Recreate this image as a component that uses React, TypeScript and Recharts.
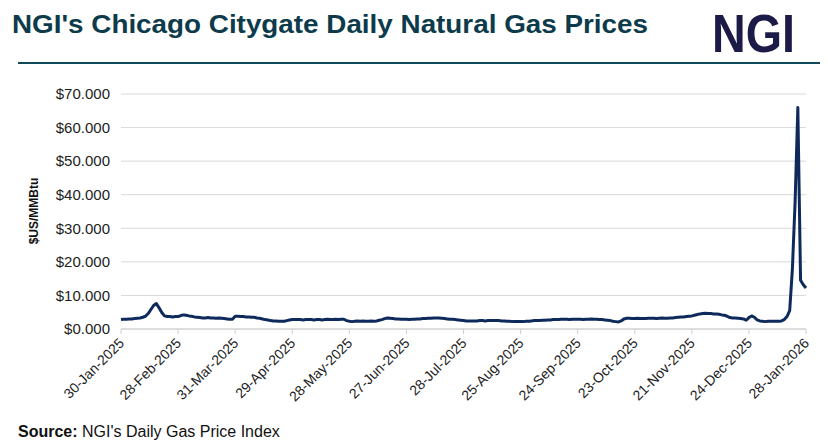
import React from "react";
import { LineChart, Line, XAxis, YAxis, CartesianGrid } from "recharts";

const TITLE = "NGI's Chicago Citygate Daily Natural Gas Prices";
const Y_LABEL = "$US/MMBtu";
const TICK_LABELS = [
  "30-Jan-2025", "28-Feb-2025", "31-Mar-2025", "29-Apr-2025", "28-May-2025",
  "27-Jun-2025", "28-Jul-2025", "25-Aug-2025", "24-Sep-2025", "23-Oct-2025",
  "21-Nov-2025", "24-Dec-2025", "28-Jan-2026",
];
const TICK_INDEX = [0, 21, 42, 63, 84, 105, 126, 147, 168, 189, 210, 231, 252];
const Y_TICKS = [0, 10, 20, 30, 40, 50, 60, 70];

// Daily price ($US/MMBtu), one per trading day, 30-Jan-2025 .. 28-Jan-2026
const PRICES = [
  2.8, 2.9, 2.9, 3.0, 3.0, 3.1, 3.2, 3.3, 3.5, 3.8,
  4.6, 5.8, 7.0, 7.6, 6.3, 4.9, 3.9, 3.7, 3.7, 3.6,
  3.7, 3.7, 4.0, 4.2, 4.1, 3.9, 3.8, 3.6, 3.5, 3.4,
  3.3, 3.3, 3.4, 3.3, 3.3, 3.2, 3.3, 3.2, 3.1, 3.0,
  2.9, 2.9, 3.8, 3.8, 3.7, 3.7, 3.6, 3.6, 3.5, 3.5,
  3.3, 3.2, 3.0, 2.8, 2.7, 2.5, 2.4, 2.4, 2.3, 2.3,
  2.3, 2.5, 2.7, 2.8, 2.8, 2.8, 2.8, 2.7, 2.8, 2.8,
  2.8, 2.7, 2.8, 2.8, 2.7, 2.8, 2.9, 2.8, 2.8, 2.9,
  2.8, 2.9, 2.9, 2.5, 2.3, 2.2, 2.3, 2.4, 2.3, 2.4,
  2.3, 2.3, 2.4, 2.3, 2.4, 2.6, 2.8, 3.1, 3.3, 3.2,
  3.1, 3.0, 3.0, 2.9, 2.9, 2.9, 2.8, 2.9, 2.9, 3.0,
  3.0, 3.1, 3.1, 3.2, 3.2, 3.3, 3.3, 3.3, 3.2, 3.1,
  3.0, 2.9, 2.9, 2.8, 2.7, 2.6, 2.5, 2.4, 2.4, 2.4,
  2.4, 2.4, 2.5, 2.5, 2.4, 2.5, 2.5, 2.5, 2.5, 2.5,
  2.4, 2.4, 2.3, 2.3, 2.2, 2.2, 2.2, 2.2, 2.2, 2.3,
  2.3, 2.4, 2.5, 2.5, 2.5, 2.6, 2.6, 2.7, 2.7, 2.8,
  2.8, 2.8, 2.9, 2.9, 2.9, 2.8, 2.9, 2.9, 2.9, 2.9,
  2.8, 2.9, 2.9, 3.0, 2.9, 2.9, 2.8, 2.8, 2.7, 2.6,
  2.5, 2.3, 2.2, 2.1, 2.4, 3.0, 3.2, 3.2, 3.1, 3.1,
  3.2, 3.1, 3.1, 3.1, 3.2, 3.2, 3.2, 3.1, 3.2, 3.3,
  3.2, 3.2, 3.3, 3.3, 3.4, 3.5, 3.6, 3.6, 3.7, 3.8,
  3.9, 4.1, 4.3, 4.5, 4.6, 4.7, 4.6, 4.6, 4.5, 4.5,
  4.4, 4.2, 4.1, 3.8, 3.4, 3.3, 3.3, 3.2, 3.1, 3.0,
  2.6, 3.4, 3.9, 3.5, 2.7, 2.4, 2.3, 2.2, 2.3, 2.3,
  2.3, 2.3, 2.3, 2.4, 2.8, 3.7, 5.5, 18.0, 38.0, 66.0,
  14.5, 13.2, 12.2,
];

const data = PRICES.map((v, i) => ({ i, v }));

const FONT = "'Liberation Sans', Arial, Helvetica, sans-serif";

const XTick = (props: any) => {
  const { x, y, payload } = props;
  const idx = TICK_INDEX.indexOf(payload.value);
  const label = idx >= 0 ? TICK_LABELS[idx] : "";
  const ax = x + 4;
  const ay = y + 8;
  return (
    <text
      x={ax}
      y={ay}
      transform={`rotate(-45, ${ax}, ${ay})`}
      textAnchor="end"
      fontSize={14}
      fontFamily={FONT}
      fill="#222"
    >
      {label}
    </text>
  );
};

export default function App() {
  return (
    <div
      style={{
        position: "absolute",
        left: 0,
        top: 0,
        width: 828,
        height: 447,
        background: "#fff",
        fontFamily: FONT,
      }}
    >
      <LineChart
        width={828}
        height={447}
        data={data}
        margin={{ top: 94, right: 22, bottom: 0, left: 11 }}
      >
        <CartesianGrid vertical={false} stroke="#d9d9d9" strokeWidth={1} />
        <XAxis
          dataKey="i"
          type="number"
          domain={[0, 252]}
          ticks={TICK_INDEX}
          interval={0}
          tick={<XTick />}
          tickSize={5}
          axisLine={{ stroke: "#cfcfcf" }}
          tickLine={{ stroke: "#cfcfcf" }}
          height={118}
        />
        <YAxis
          type="number"
          domain={[0, 70]}
          ticks={Y_TICKS}
          interval={0}
          width={110}
          axisLine={false}
          tickLine={false}
          tickMargin={5}
          tickFormatter={(v: number) => `$${v.toFixed(3)}`}
          tick={{ fontSize: 15, fill: "#222", fontFamily: FONT }}
        />
        <Line
          type="linear"
          dataKey="v"
          stroke="#0e2a5c"
          strokeWidth={3}
          dot={false}
          isAnimationActive={false}
          strokeLinejoin="round"
        />
      </LineChart>
      <svg
        width={828}
        height={447}
        style={{ position: "absolute", left: 0, top: 0, pointerEvents: "none" }}
      >
        <text
          x={12}
          y={33}
          fontSize={26}
          fontWeight="bold"
          fontFamily={FONT}
          fill="#0d3b4b"
          textLength={636}
          lengthAdjust="spacingAndGlyphs"
        >
          {TITLE}
        </text>
        <text
          x={712}
          y={52}
          fontSize={54}
          fontWeight="bold"
          fontFamily={FONT}
          fill="#1c1a46"
          textLength={83}
          lengthAdjust="spacingAndGlyphs"
        >
          NGI
        </text>
        <line x1={18} x2={820} y1={63} y2={63} stroke="#114a58" strokeWidth={2} />
        <text
          x={38}
          y={211}
          transform="rotate(-90, 38, 211)"
          textAnchor="middle"
          fontSize={12}
          fontWeight="bold"
          fontFamily={FONT}
          fill="#111"
        >
          {Y_LABEL}
        </text>
        <text x={18} y={437} fontSize={16} fontFamily={FONT} fill="#111">
          <tspan fontWeight="bold">Source:</tspan>
          <tspan> NGI's Daily Gas Price Index</tspan>
        </text>
      </svg>
    </div>
  );
}
